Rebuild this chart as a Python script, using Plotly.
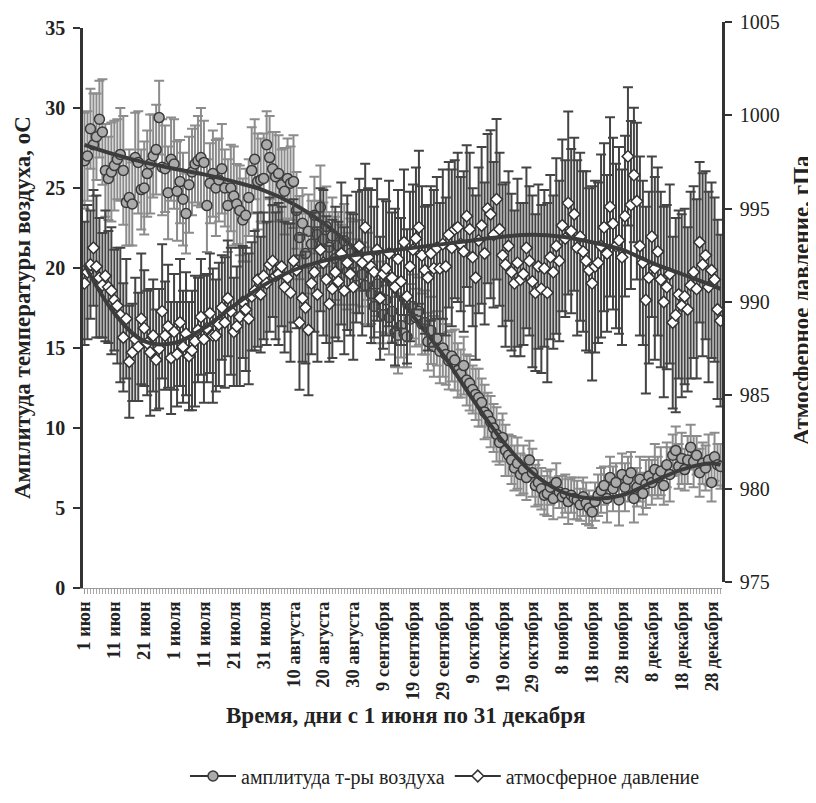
import plotly.graph_objects as go

# ---------------- data ----------------
tick_labels = ["1 июн", "11 июн", "21 июн", "1 июля", "11 июля", "21 июля", "31 июля",
               "10 августа", "20 августа", "30 августа", "9 сентября", "19 сентября",
               "29 сентября", "9 октября", "19 октября", "29 октября", "8 ноября",
               "18 ноября", "28 ноября", "8 декабря", "18 декабря", "28 декабря"]
tick_days = list(range(0, 220, 10))[:len(tick_labels)]

# amplitude of air temperature, °C (daily means)
temp_jun = [26.7, 27.0, 28.7, 27.7, 28.2, 29.3, 28.5, 26.1, 25.6, 26.0, 26.4, 26.8, 27.1, 26.1, 24.1,
            24.4, 24.0, 26.9, 26.6, 24.9, 25.0, 25.9, 26.5, 27.0, 27.4, 29.4, 26.3, 26.2, 24.7, 26.8]
temp_jul = [26.5, 24.8, 25.4, 24.3, 23.4, 25.2, 26.0, 26.5, 26.7, 26.9, 26.6, 23.9, 25.3, 25.9, 25.0,
            25.5, 26.2, 25.0, 23.9, 25.0, 24.5, 24.0, 23.6, 23.0, 23.3, 24.4, 26.1, 26.8, 25.4, 25.5, 25.6]
temp_aug = [27.7, 26.9, 26.2, 25.7, 25.9, 25.2, 24.8, 25.6, 25.3, 25.4, 23.6, 21.9, 22.8, 20.9, 22.3,
            21.5, 23.3, 22.1, 23.8, 21.8, 22.6, 21.3, 22.0, 20.6, 21.4, 20.2, 21.7, 19.8, 20.9, 20.3, 19.5]
temp_sep = [20.8, 19.6, 18.9, 20.1, 18.4, 17.6, 19.0, 18.2, 17.1, 18.0, 16.9, 17.3, 16.0, 15.8, 16.4,
            15.9, 15.7, 16.8, 17.6, 16.9, 17.3, 16.5, 16.6, 15.4, 16.1, 15.1, 15.6, 14.8, 15.0, 14.6]
temp_oct = [14.2, 14.5, 14.25, 13.6, 13.4, 13.9, 13.0, 12.8, 12.4, 12.1, 11.9, 11.6, 11.0, 10.8, 10.4,
            10.0, 9.6, 9.1, 9.4, 8.6, 8.3, 8.0, 7.5, 7.8, 7.1, 7.4, 6.9, 8.0, 7.2, 6.4, 6.6]
temp_nov = [6.2, 5.8, 5.9, 6.3, 5.6, 6.6, 6.0, 5.7, 5.9, 5.4, 5.8, 5.6, 5.5, 5.2, 5.7,
            5.3, 5.0, 4.75, 5.4, 5.8, 6.1, 6.4, 5.6, 6.9, 6.2, 6.6, 5.5, 7.1, 6.3, 6.8]
temp_dec = [7.2, 5.6, 6.3, 6.8, 5.9, 6.5, 7.0, 6.6, 7.4, 6.9, 7.3, 6.4, 7.7, 7.1, 8.3,
            8.6, 7.6, 8.1, 7.4, 8.0, 8.8, 7.9, 8.3, 7.2, 7.8, 7.5, 8.0, 6.6, 8.2, 7.7, 7.6]

terr_jun = [3.0, 2.8, 2.5, 3.2, 2.7, 2.4, 3.3, 2.9, 2.6, 3.1, 2.8, 2.5, 2.9, 3.4, 2.7,
            3.0, 2.6, 2.8, 3.2, 2.5, 2.9, 2.7, 3.1, 2.6, 2.8, 2.3, 3.0, 2.7, 2.9, 2.6]
terr_jul = [2.8, 3.1, 2.6, 2.9, 2.5, 3.0, 2.7, 2.4, 2.8, 3.1, 2.6, 2.9, 2.5, 2.7, 3.0,
            2.6, 2.8, 2.4, 2.9, 2.7, 3.1, 2.5, 2.8, 2.6, 2.9, 2.4, 2.7, 2.5, 3.0, 2.6, 2.8]
terr_aug = [2.1, 2.6, 2.3, 2.8, 2.4, 2.2, 2.7, 2.5, 2.3, 2.9, 2.4, 2.6, 2.2, 2.5, 2.3,
            2.7, 2.4, 2.1, 2.6, 2.3, 2.5, 2.2, 2.4, 2.6, 2.1, 2.5, 2.3, 2.4, 2.2, 2.6, 2.3]
terr_sep = [2.2, 2.0, 2.4, 2.1, 1.9, 2.3, 2.0, 2.2, 1.8, 2.1, 2.3, 1.9, 2.2, 2.4, 2.0,
            2.1, 1.9, 2.2, 2.0, 1.8, 2.1, 1.9, 2.0, 1.8, 2.1, 1.9, 1.7, 2.0, 1.8, 1.9]
terr_oct = [1.8, 1.6, 1.9, 1.7, 1.5, 1.8, 1.6, 1.7, 1.5, 1.6, 1.8, 1.5, 1.7, 1.4, 1.6,
            1.5, 1.7, 1.4, 1.5, 1.6, 1.3, 1.5, 1.4, 1.6, 1.3, 1.5, 1.4, 1.2, 1.5, 1.3, 1.4]
terr_nov = [1.3, 1.2, 1.4, 1.1, 1.3, 1.2, 1.0, 1.3, 1.2, 1.4, 1.1, 1.3, 1.2, 1.0, 1.2,
            1.3, 1.1, 1.0, 1.2, 1.3, 1.4, 1.2, 1.5, 1.3, 1.4, 1.2, 1.6, 1.3, 1.5, 1.4]
terr_dec = [1.3, 1.5, 1.2, 1.4, 1.3, 1.5, 1.2, 1.4, 1.6, 1.3, 1.5, 1.2, 1.4, 1.7, 1.3,
            1.5, 1.4, 1.6, 1.3, 1.5, 1.4, 1.6, 1.2, 1.5, 1.3, 1.4, 1.6, 1.2, 1.5, 1.3, 1.4]

# atmospheric pressure, hPa (daily means)
pres_jun = [991.0, 991.6, 992.0, 992.9, 991.9, 991.3, 990.9, 991.4, 990.8, 990.6, 990.1, 989.8, 989.3, 988.1, 989.1,
            986.8, 987.3, 988.0, 987.6, 989.1, 988.6, 987.8, 987.3, 988.2, 986.9, 987.5, 989.5, 988.2, 988.7, 987.0]
pres_jul = [988.4, 987.2, 988.9, 987.6, 988.3, 987.1, 987.4, 987.9, 988.5, 989.2, 988.0, 988.6, 989.4, 988.2, 988.2,
            988.8, 989.7, 988.9, 990.2, 989.5, 988.4, 988.7, 989.2, 990.0, 989.6, 989.1, 990.3, 990.6, 991.2, 990.4, 991.4]
pres_aug = [991.0, 992.0, 992.2, 991.4, 991.5, 991.9, 990.8, 991.3, 990.5, 992.2, 991.7, 988.9, 990.2, 989.7, 988.5,
            991.0, 991.6, 990.4, 992.8, 992.1, 991.2, 989.9, 990.7, 991.6, 991.1, 992.6, 990.6, 992.1, 991.5, 990.8, 992.4]
pres_sep = [993.0, 992.1, 994.0, 992.4, 991.9, 991.6, 992.8, 990.2, 991.5, 991.8, 992.6, 991.3, 990.8, 992.3, 991.1,
            993.2, 990.3, 991.9, 992.8, 993.4, 994.0, 992.5, 991.7, 991.3, 992.6, 991.8, 992.9, 991.8, 993.1, 991.9]
pres_oct = [993.6, 992.9, 993.9, 994.0, 993.1, 992.7, 994.6, 993.9, 992.4, 991.3, 993.3, 994.1, 992.6, 995.0, 994.7,
            993.6, 995.5, 993.9, 992.5, 992.0, 993.0, 991.6, 991.0, 992.1, 991.2, 991.5, 992.9, 992.2, 991.1, 990.5, 991.9]
pres_nov = [990.7, 991.8, 990.5, 992.4, 991.6, 993.0, 992.2, 994.1, 993.4, 995.3, 993.8, 994.7, 992.9, 993.5, 992.7,
            992.2, 991.7, 991.0, 991.9, 992.1, 993.0, 994.0, 992.6, 995.1, 994.2, 993.0, 993.3, 992.4, 994.6, 997.8]
pres_dec = [995.2, 996.8, 995.4, 993.0, 992.1, 990.1, 991.3, 993.5, 991.8, 992.7, 991.2, 990.0, 990.8, 991.5, 988.9,
            989.3, 990.4, 989.8, 990.3, 989.6, 990.9, 991.6, 990.7, 993.2, 992.0, 992.5, 990.8, 991.7, 991.2, 989.6, 989.0]

perr_jun = [3.3, 3.6, 2.9, 3.1, 3.8, 3.2, 2.8, 3.5, 3.0, 3.4, 2.7, 3.1, 3.6, 2.9, 3.2,
            3.0, 2.6, 3.3, 2.9, 3.5, 3.1, 2.8, 3.4, 3.0, 2.7, 3.2, 3.6, 2.9, 3.3, 3.0]
perr_jul = [3.1, 2.8, 3.4, 3.0, 3.3, 2.9, 3.2, 3.5, 2.8, 3.1, 3.4, 2.9, 3.2, 3.6, 3.0,
            3.3, 2.8, 3.5, 3.1, 3.4, 2.9, 3.2, 3.7, 3.0, 3.3, 3.5, 2.9, 3.2, 3.6, 3.1, 3.4]
perr_aug = [3.3, 3.6, 3.0, 3.4, 3.8, 3.2, 3.5, 2.9, 3.7, 3.3, 3.1, 3.6, 3.4, 3.0, 3.5,
            3.8, 3.2, 3.6, 3.3, 3.9, 3.4, 3.1, 3.7, 3.5, 3.2, 3.8, 3.4, 3.6, 3.3, 3.9, 3.5]
perr_sep = [3.6, 3.9, 3.4, 3.7, 4.1, 3.5, 3.8, 3.3, 4.0, 3.6, 3.9, 3.5, 4.2, 3.7, 3.4,
            3.9, 3.6, 4.0, 3.5, 3.8, 4.1, 3.7, 3.4, 3.9, 3.6, 4.2, 3.8, 3.5, 4.0, 3.7]
perr_oct = [3.9, 4.2, 3.7, 4.0, 3.6, 4.3, 3.8, 4.1, 3.7, 4.4, 3.9, 4.2, 3.8, 4.0, 4.5,
            3.9, 4.3, 4.1, 3.8, 4.4, 4.0, 4.2, 3.9, 4.5, 4.1, 3.8, 4.3, 4.0, 4.6, 4.2, 4.4]
perr_nov = [4.5, 4.2, 4.8, 4.4, 4.1, 4.7, 4.3, 4.6, 4.2, 4.9, 4.4, 4.1, 4.7, 4.5, 4.3,
            4.8, 4.4, 5.2, 4.6, 4.3, 4.9, 4.5, 4.2, 4.8, 4.6, 4.4, 5.0, 4.7, 4.3, 3.7]
perr_dec = [4.5, 3.6, 4.2, 4.8, 4.4, 5.0, 4.6, 4.3, 4.9, 4.5, 4.7, 5.1, 4.4, 4.8, 4.6,
            5.2, 4.5, 4.9, 4.7, 4.4, 5.0, 4.6, 4.8, 4.3, 4.9, 4.5, 5.1, 4.7, 4.4, 4.8, 4.6]

# polynomial trend lines
trend_days = [0, 10, 20, 30, 40, 50, 60, 70, 80, 90, 100, 110, 120, 130, 140, 150, 160, 170, 180, 190, 200, 210, 213]
temp_trend = [27.7, 27.1, 26.6, 26.2, 25.85, 25.4, 24.85, 24.0, 22.8, 21.3, 19.4, 17.0, 14.6, 11.8, 9.2, 7.2,
              6.0, 5.6, 5.8, 6.6, 7.4, 7.8, 7.7]
pres_trend = [992.0, 989.4, 987.9, 987.8, 988.6, 989.8, 990.9, 991.7, 992.2, 992.5, 992.7, 992.9, 993.1, 993.3,
              993.5, 993.6, 993.5, 993.2, 992.8, 992.1, 991.5, 990.9, 990.7]

temp = temp_jun + temp_jul + temp_aug + temp_sep + temp_oct + temp_nov + temp_dec
terr = terr_jun + terr_jul + terr_aug + terr_sep + terr_oct + terr_nov + terr_dec
pres = pres_jun + pres_jul + pres_aug + pres_sep + pres_oct + pres_nov + pres_dec
perr = perr_jun + perr_jul + perr_aug + perr_sep + perr_oct + perr_nov + perr_dec
days = list(range(len(temp)))

# ---------------- styling ----------------
SERIF = "Liberation Serif, Times New Roman, serif"
DARK = "#333333"
TXT = "#222222"
OFF = 8                        # default page (body) margin of the html page
W, H = 816 - OFF, 803 - OFF
ML, MR, MT, MB = 83 - OFF, 94, 22 - OFF, 215
plot_w = W - ML - MR           # 639
plot_h = H - MT - MB           # 566
shift = 6                      # right axis sits 6 px higher than the left one

def px_x(px):                  # page pixel -> paper x
    return (px - OFF - ML) / plot_w

def px_y(px):                  # page pixel -> paper y
    return (H - MB - (px - OFF)) / plot_h

fig = go.Figure()

fig.add_trace(go.Scatter(
    x=days, y=temp, mode="markers", yaxis="y", showlegend=False,
    marker=dict(symbol="circle", size=10, color="#ababab", line=dict(color="#3a3a3a", width=1.5)),
    error_y=dict(type="data", array=terr, visible=True, color="#8c8c8c", thickness=2, width=5),
))
fig.add_trace(go.Scatter(
    x=trend_days, y=temp_trend, mode="lines", yaxis="y", showlegend=False,
    line=dict(color="#3c3c3c", width=4, shape="spline", smoothing=1.0),
))
fig.add_trace(go.Scatter(
    x=days, y=pres, mode="markers", xaxis="x", yaxis="y2", showlegend=False,
    marker=dict(symbol="diamond", size=9, color="white", line=dict(color="#333333", width=1.5)),
    error_y=dict(type="data", array=perr, visible=True, color="#444444", thickness=2, width=5),
))
fig.add_trace(go.Scatter(
    x=trend_days, y=pres_trend, mode="lines", xaxis="x", yaxis="y2", showlegend=False,
    line=dict(color="#3c3c3c", width=4, shape="spline", smoothing=1.0),
))

# legend entries
fig.add_trace(go.Scatter(
    x=[None], y=[None], mode="lines+markers", name="амплитуда т-ры воздуха",
    line=dict(color=DARK, width=2),
    marker=dict(symbol="circle", size=10, color="#ababab", line=dict(color="#3a3a3a", width=1.5)),
))
fig.add_trace(go.Scatter(
    x=[None], y=[None], mode="lines+markers", name="атмосферное давление",
    line=dict(color=DARK, width=2),
    marker=dict(symbol="diamond", size=9, color="white", line=dict(color="#333333", width=1.5)),
))

fig.update_layout(
    width=W, height=H, autosize=False,
    margin=dict(l=ML, r=MR, t=MT, b=MB, autoexpand=False),
    paper_bgcolor="white", plot_bgcolor="rgba(0,0,0,0)",
    font=dict(family=SERIF, color=TXT),
    xaxis=dict(
        range=[-0.5, len(days) - 0.5], tickmode="array", tickvals=tick_days, ticktext=tick_labels,
        tickangle=-90, tickfont=dict(family=SERIF, size=18.5, weight="bold", color=TXT),
        showline=True, linecolor="#9a9a9a", linewidth=1, ticks="outside", ticklen=5,
        tickcolor="#9a9a9a", tickwidth=1, showgrid=False, zeroline=False,
        minor=dict(ticks="outside", dtick=1, tick0=0, ticklen=5, tickcolor="#a8a8a8", tickwidth=1, showgrid=False),
        anchor="y", automargin=False,
    ),
    yaxis=dict(
        range=[0, 35], dtick=5, tick0=0, domain=[0, (plot_h - shift) / plot_h],
        showline=True, linecolor=DARK, linewidth=2.5, ticks="outside", ticklen=7, tickwidth=2,
        tickcolor=DARK, showgrid=False, zeroline=False, ticklabelstandoff=4,
        tickfont=dict(family=SERIF, size=20, weight="bold", color=TXT),
        anchor="x", automargin=False,
    ),
    yaxis2=dict(
        range=[975, 1005], dtick=5, tick0=975, domain=[shift / plot_h, 1],
        side="right", anchor="x", automargin=False,
        showline=True, linecolor=DARK, linewidth=2.5, ticks="outside", ticklen=7, tickwidth=2,
        tickcolor=DARK, showgrid=False, zeroline=False, ticklabelstandoff=4,
        tickfont=dict(family=SERIF, size=20, color=TXT),
    ),
    legend=dict(
        orientation="h", x=px_x(445), xanchor="center", y=px_y(776), yanchor="middle",
        font=dict(family=SERIF, size=20, color=TXT), itemwidth=46,
        bgcolor="rgba(0,0,0,0)", traceorder="normal",
    ),
    annotations=[
        dict(text="<b>Амплитуда температуры воздуха, оС</b>", xref="paper", yref="paper",
             x=px_x(22), y=px_y(308), textangle=-90, showarrow=False,
             xanchor="center", yanchor="middle", font=dict(family=SERIF, size=23, color=TXT)),
        dict(text="<b>Атмосферное давление, гПа</b>", xref="paper", yref="paper",
             x=px_x(801), y=px_y(300), textangle=-90, showarrow=False,
             xanchor="center", yanchor="middle", font=dict(family=SERIF, size=23, color=TXT)),
        dict(text="<b>Время, дни с 1 июня по 31 декабря</b>", xref="paper", yref="paper",
             x=px_x(406), y=px_y(715), showarrow=False,
             xanchor="center", yanchor="middle", font=dict(family=SERIF, size=23, color=TXT)),
    ],
)

fig.write_html("out.html")
